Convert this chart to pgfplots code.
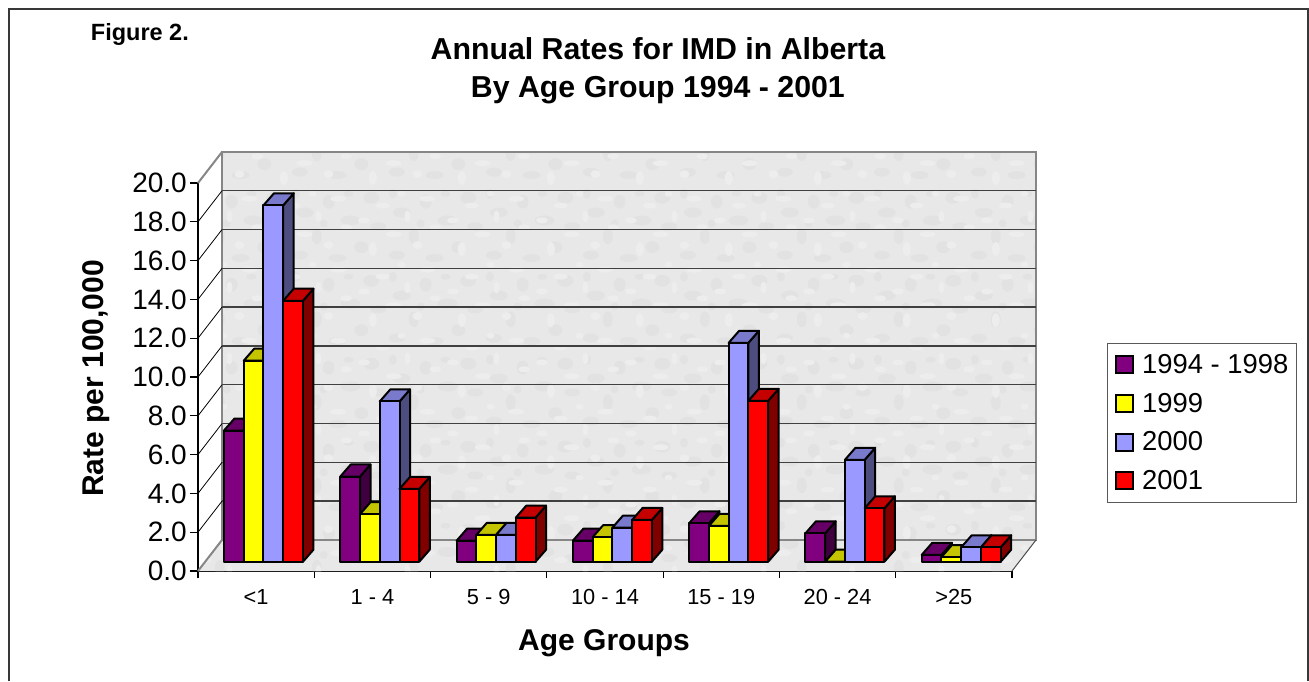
\documentclass[border=0pt]{standalone}
\usepackage{pgfplots}
\pgfplotsset{compat=1.18}
\usepackage{fontspec}
\usetikzlibrary{patterns}
\setmainfont{Liberation Sans}
\definecolor{purF}{HTML}{800080}\definecolor{purT}{HTML}{660066}\definecolor{purS}{HTML}{400040}
\definecolor{yelF}{HTML}{FFFF00}\definecolor{yelT}{HTML}{C4C400}\definecolor{yelS}{HTML}{808000}
\definecolor{bluF}{HTML}{9999FF}\definecolor{bluT}{HTML}{7A7ACC}\definecolor{bluS}{HTML}{4D4D80}
\definecolor{redF}{HTML}{FF0000}\definecolor{redT}{HTML}{C40000}\definecolor{redS}{HTML}{800000}
\definecolor{wallc}{HTML}{E8E8E8}
\definecolor{mdark}{HTML}{E2E2E2}
\definecolor{mlight}{HTML}{EDEDED}
\definecolor{edgec}{HTML}{868686}
% fixed mottling tiles for the wall texture
\newcommand{\blob}[4]{\pgfpathellipse{\pgfpoint{#1pt}{#2pt}}{\pgfpoint{#3pt}{0pt}}{\pgfpoint{0pt}{#4pt}}}
\pgfdeclarepatternformonly{marbleA}{\pgfpointorigin}{\pgfpoint{97pt}{83pt}}{\pgfpoint{97pt}{83pt}}{%
 \blob{9}{12}{8}{4.5}\blob{26}{31}{5}{8}\blob{47}{9}{9}{4}\blob{71}{20}{7}{6}\blob{88}{41}{8}{4}
 \blob{14}{55}{9}{5}\blob{38}{66}{6}{7}\blob{60}{47}{10}{5}\blob{81}{70}{8}{6}\blob{33}{44}{4}{4}
 \blob{58}{74}{5}{3}\blob{5}{74}{4}{5}\pgfusepath{fill}}
\pgfdeclarepatternformonly{marbleB}{\pgfpointorigin}{\pgfpoint{89pt}{71pt}}{\pgfpoint{89pt}{71pt}}{%
 \blob{17}{7}{4}{7}\blob{38}{22}{8}{3}\blob{62}{11}{5}{4}\blob{80}{29}{6}{3}\blob{8}{36}{6}{3}
 \blob{27}{51}{7}{3}\blob{52}{40}{3}{6}\blob{72}{58}{8}{3}\blob{46}{63}{4}{3}\pgfusepath{fill}}
\newcommand{\fs}[1]{\fontsize{#1}{#1}\selectfont}
% depth offsets in data units
\def\dxw{0.2064}\def\dyw{1.6}
\def\dxb{0.0903}\def\dyb{0.62}
\def\bw{0.1698}\def\xo{0.2236}\def\yo{0.48}
\newcommand{\onebar}[4]{%
 \pgfmathsetmacro\xl{#1+\xo+#2*\bw}%
 \pgfmathsetmacro\xr{\xl+\bw}%
 \pgfmathsetmacro\yt{\yo+#3}%
 \pgfmathsetmacro\xlb{\xl+\dxb}%
 \pgfmathsetmacro\xrb{\xr+\dxb}%
 \pgfmathsetmacro\ybb{\yo+\dyb}%
 \pgfmathsetmacro\ytb{\yt+\dyb}%
 \edef\tmp{\noexpand\addplot[forget plot,barface,fill=#4S] coordinates {(\xr,\yo)(\xrb,\ybb)(\xrb,\ytb)(\xr,\yt)} -- cycle;
 \noexpand\addplot[forget plot,barface,fill=#4T] coordinates {(\xl,\yt)(\xr,\yt)(\xrb,\ytb)(\xlb,\ytb)} -- cycle;
 \noexpand\addplot[forget plot,barface,fill=#4F] coordinates {(\xl,\yo)(\xr,\yo)(\xr,\yt)(\xl,\yt)} -- cycle;}%
 \tmp}
\newcommand{\grp}[5]{\onebar{#1}{0}{#2}{pur}\onebar{#1}{1}{#3}{yel}\onebar{#1}{2}{#4}{blu}\onebar{#1}{3}{#5}{red}}
\newcommand{\gridl}[1]{%
 \pgfmathsetmacro\yg{#1+\dyw}%
 \edef\tmp{\noexpand\addplot[forget plot,draw=black,line width=0.8pt] coordinates {(0,#1)(\dxw,\yg)};
 \noexpand\addplot[forget plot,draw=black!75,line width=1.4pt] coordinates {(\dxw,\yg)(7.2064,\yg)};}%
 \tmp}
\begin{document}
\begin{tikzpicture}[x=1pt,y=1pt]
\path[use as bounding box] (0,0) rectangle (1309,681);
\draw[black!78,line width=2pt] (9,0) -- (9,671.5) -- (1308,671.5) -- (1308,0);
\node[anchor=base west,inner sep=0pt,font=\fs{23.5}\bfseries] at (90.7,640.3) {Figure 2.};
\begin{axis}[
  at={(198pt,110pt)},anchor=south west,
  scale only axis,width=814pt,height=388pt,
  xmin=0,xmax=7,ymin=0,ymax=20,clip=false,
  axis x line=bottom,axis y line=left,
  axis line style={-,black,line width=1.3pt},
  tick align=outside,
  ytick={0,2,...,20},
  xtick={0.5,1.5,2.5,3.5,4.5,5.5,6.5},
  xticklabels={<1,1 - 4,5 - 9,10 - 14,15 - 19,20 - 24,>25},
  minor xtick={0,1,2,3,4,5,6,7},
  major tick length=8pt,minor tick length=7pt,
  major x tick style={draw=none},
  y tick style={black,line width=1.2pt},
  minor x tick style={black,line width=1.2pt},
  yticklabel style={/pgf/number format/assume math mode=true,/pgf/number format/fixed,/pgf/number format/fixed zerofill,/pgf/number format/precision=1,font=\fs{28},inner sep=0pt,xshift=-3pt},
  xticklabel style={font=\fs{21.8},inner sep=0pt,yshift=-10pt},
  title={Annual Rates for IMD in Alberta\\[8pt]By Age Group 1994 - 2001},
  title style={font=\fs{30.3}\bfseries,align=center,at={(axis description cs:0.565,1.274)},anchor=center,inner sep=0pt},
  xlabel={Age Groups},
  xlabel style={font=\fs{30}\bfseries,at={(axis description cs:0.4988,-0.187)},anchor=center,inner sep=0pt},
  ylabel={Rate per 100,000},
  ylabel style={font=\fs{30}\bfseries,at={(axis description cs:-0.1255,0.496)},anchor=center,rotate=0,inner sep=0pt},
  barface/.style={draw=black,line width=2pt,line join=round},
  legend style={at={(axis description cs:1.1164,0.5876)},anchor=north west,draw=black!65,line width=1pt,font=\fs{27.4},
    inner xsep=8pt,inner ysep=11pt,row sep=18pt,cells={anchor=west},nodes={inner sep=0pt},
    /tikz/every odd column/.append style={column sep=8pt}},
  legend cell align=left,
  legend image code/.code={\draw[draw=black,line width=1.9pt,#1] (0pt,-8.5pt) rectangle (17pt,8.5pt);},
]
% floor and back wall
\addplot[forget plot,fill=wallc,draw=none] coordinates {(0,0)(7,0)(7.2064,1.6)(0.2064,1.6)} -- cycle;
\addplot[forget plot,pattern=marbleA,pattern color=mdark,draw=none] coordinates {(0,0)(7,0)(7.2064,1.6)(0.2064,1.6)} -- cycle;
\addplot[forget plot,pattern=marbleB,pattern color=mlight,draw=none] coordinates {(0,0)(7,0)(7.2064,1.6)(0.2064,1.6)} -- cycle;
\addplot[forget plot,fill=wallc,draw=none] coordinates {(0.2064,1.6)(7.2064,1.6)(7.2064,21.6)(0.2064,21.6)} -- cycle;
\addplot[forget plot,pattern=marbleA,pattern color=mdark,draw=none] coordinates {(0.2064,1.6)(7.2064,1.6)(7.2064,21.6)(0.2064,21.6)} -- cycle;
\addplot[forget plot,pattern=marbleB,pattern color=mlight,draw=none] coordinates {(0.2064,1.6)(7.2064,1.6)(7.2064,21.6)(0.2064,21.6)} -- cycle;
\addplot[forget plot,draw=edgec,line width=2pt] coordinates {(0.2064,1.6)(7.2064,1.6)(7.2064,21.6)(0.2064,21.6)} -- cycle;
\addplot[forget plot,draw=edgec,line width=2pt] coordinates {(0,0)(0.2064,1.6)};
\addplot[forget plot,draw=edgec,line width=2pt] coordinates {(0,20)(0.2064,21.6)};
\addplot[forget plot,draw=black!70,line width=1pt] coordinates {(7,0)(7.2064,1.6)};
\gridl{2}\gridl{4}\gridl{6}\gridl{8}\gridl{10}\gridl{12}\gridl{14}\gridl{16}\gridl{18}
% values per group: 1994-1998, 1999, 2000, 2001
\grp{0}{6.76}{10.36}{18.37}{13.45}
\grp{1}{4.39}{2.45}{8.26}{3.75}
\grp{2}{1.08}{1.38}{1.38}{2.27}
\grp{3}{1.08}{1.26}{1.75}{2.15}
\grp{4}{1.98}{1.84}{11.28}{8.29}
\grp{5}{1.46}{0.00}{5.25}{2.75}
\grp{6}{0.35}{0.24}{0.74}{0.74}
\addlegendimage{fill=purF}\addlegendentry{1994 - 1998\hspace{3pt}}
\addlegendimage{fill=yelF}\addlegendentry{1999}
\addlegendimage{fill=bluF}\addlegendentry{2000}
\addlegendimage{fill=redF}\addlegendentry{2001}
\end{axis}
\end{tikzpicture}
\end{document}
